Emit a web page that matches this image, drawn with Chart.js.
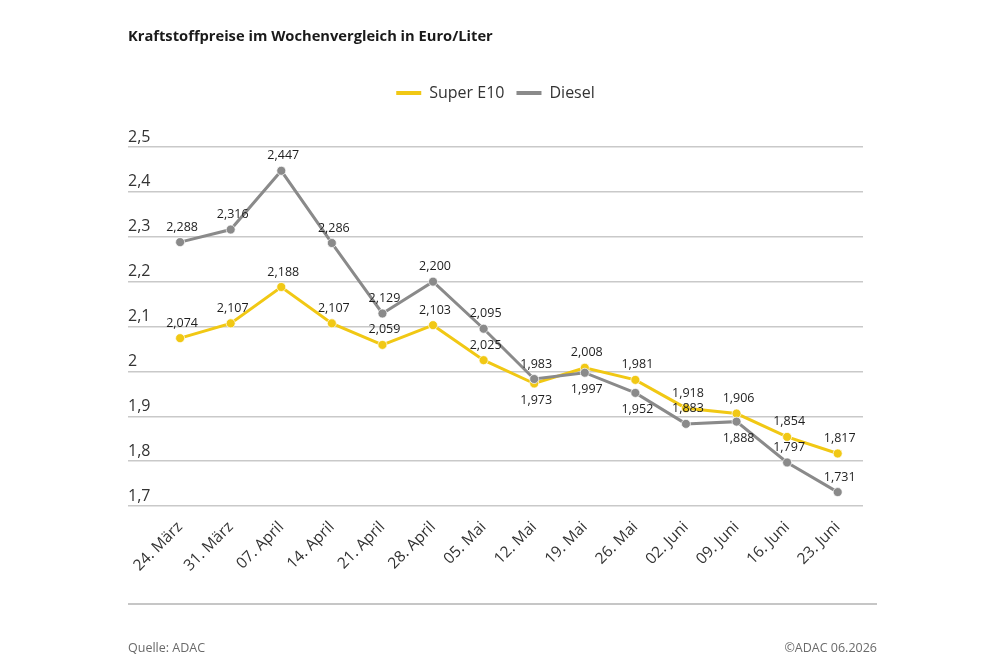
<!DOCTYPE html>
<html>
<head>
<meta charset="utf-8">
<script src="https://cdn.jsdelivr.net/npm/chart.js@4.4.1/dist/chart.umd.min.js"></script>
<style>
  html, body { margin: 0; padding: 0; background: #ffffff; }
  #wrap { position: relative; width: 1000px; height: 667px; overflow: hidden; font-family: "Open Sans", sans-serif; }
  #title { position: absolute; left: 128px; top: 25px; font-size: 14.7px; font-weight: 700; color: #1a1a1a; white-space: nowrap; }
  #sep { position: absolute; left: 128px; top: 603px; width: 749px; height: 2px; background: #c6c6c6; }
  #src { position: absolute; left: 128px; top: 639px; font-size: 12.5px; color: #6a6a6a; }
  #copy { position: absolute; right: 123px; top: 639px; font-size: 12.5px; color: #6a6a6a; }
  canvas { position: absolute; left: 0; top: 0; }
</style>
</head>
<body>
<div id="wrap">
  <canvas id="c" width="1000" height="667"></canvas>
  <div id="title">Kraftstoffpreise im Wochenvergleich in Euro/Liter</div>
  <div id="sep"></div>
  <div id="src">Quelle: ADAC</div>
  <div id="copy">©ADAC 06.2026</div>
</div>
<script>
const categories = ["24. März", "31. März", "07. April", "14. April", "21. April", "28. April", "05. Mai", "12. Mai", "19. Mai", "26. Mai", "02. Juni", "09. Juni", "16. Juni", "23. Juni"];
const superE10 = [2.074, 2.107, 2.188, 2.107, 2.059, 2.103, 2.025, 1.973, 2.008, 1.981, 1.918, 1.906, 1.854, 1.817];
const diesel   = [2.288, 2.316, 2.447, 2.286, 2.129, 2.200, 2.095, 1.983, 1.997, 1.952, 1.883, 1.888, 1.797, 1.731];
const yTicks = [1.7, 1.8, 1.9, 2.0, 2.1, 2.2, 2.3, 2.4, 2.5];

// label placement (a = above point, b = below point)
const superLabelPos  = ["a","a","a","a","a","a","a","b","a","a","a","a","a","a"];
const dieselLabelPos = ["a","a","a","a","a","a","a","a","b","b","a","b","a","a"];

const YELLOW = "#f1c814";
const GREY = "#8a8a8a";
const FONT = "'Open Sans', sans-serif";

function fmt(v, d) { return v.toFixed(d).replace('.', ','); }

const dataLabels = {
  id: 'dataLabels',
  afterDatasetsDraw(chart) {
    const ctx = chart.ctx;
    ctx.save();
    ctx.font = "12.5px " + FONT;
    ctx.fillStyle = "#1e1e1e";
    ctx.textAlign = "center";
    ctx.textBaseline = "middle";
    chart.data.datasets.forEach((ds, i) => {
      const meta = chart.getDatasetMeta(i);
      const pos = ds.labelPos;
      meta.data.forEach((pt, j) => {
        const above = pos[j] === 'a';
        const y = above ? pt.y - 15 : pt.y + 17;
        ctx.fillText(fmt(ds.data[j].y, 3), pt.x + 2, y);
      });
    });
    ctx.restore();
  }
};

const legendSpace = {
  id: 'legendSpace',
  beforeInit(chart) {
    const lg = chart.legend;
    const fit = lg.fit;
    lg.fit = function () { fit.call(this); this.height = 74; };
  }
};

new Chart(document.getElementById('c'), {
  type: 'line',
  data: {
    datasets: [
      {
        label: 'Super E10',
        data: superE10.map((v, i) => ({ x: i, y: v })),
        labelPos: superLabelPos,
        borderColor: YELLOW,
        backgroundColor: YELLOW,
        pointBackgroundColor: YELLOW,
        pointBorderColor: 'rgba(255,255,255,0.7)',
        pointBorderWidth: 1,
        pointRadius: 4.5,
        borderWidth: 3,
        tension: 0,
        order: 1
      },
      {
        label: 'Diesel',
        data: diesel.map((v, i) => ({ x: i, y: v })),
        labelPos: dieselLabelPos,
        borderColor: GREY,
        backgroundColor: GREY,
        pointBackgroundColor: GREY,
        pointBorderColor: 'rgba(255,255,255,0.7)',
        pointBorderWidth: 1,
        pointRadius: 4.5,
        borderWidth: 3,
        tension: 0,
        order: 0
      }
    ]
  },
  options: {
    responsive: false,
    animation: false,
    devicePixelRatio: 1,
    layout: { padding: { left: 128, right: 137, top: 73, bottom: 0 } },
    plugins: {
      tooltip: { enabled: false },
      legend: {
        position: 'top',
        align: 'center',
        labels: {
          font: { family: FONT, size: 16 },
          color: '#333333',
          boxWidth: 25,
          boxHeight: 4,
          padding: 12,
          sort: (a, b) => a.datasetIndex - b.datasetIndex,
          generateLabels: (chart) => Chart.defaults.plugins.legend.labels.generateLabels(chart).map(l => Object.assign(l, { lineWidth: 0 }))
        }
      }
    },
    scales: {
      x: {
        type: 'linear',
        min: -1.03,
        max: 13.5,
        grid: { display: false },
        border: { display: false },
        afterBuildTicks(scale) { scale.ticks = categories.map((c, i) => ({ value: i })); },
        afterFit(scale) { scale.height = 161; },
        ticks: {
          autoSkip: false,
          minRotation: 45,
          maxRotation: 45,
          padding: 4,
          color: '#333333',
          font: { family: FONT, size: 15.5 },
          callback: (v) => categories[v]
        }
      },
      y: {
        min: 1.7,
        max: 2.5,
        afterBuildTicks(scale) { scale.ticks = yTicks.map(v => ({ value: v })); },
        grid: { color: '#c9c9c9', lineWidth: 1.5, drawTicks: false },
        border: { display: false },
        ticks: {
          mirror: true,
          padding: 0,
          labelOffset: -10,
          color: '#333333',
          font: { family: FONT, size: 16 },
          callback: (v) => String(Number(v.toFixed(1))).replace('.', ',')
        }
      }
    }
  },
  plugins: [legendSpace, dataLabels]
});
</script>
</body>
</html>
